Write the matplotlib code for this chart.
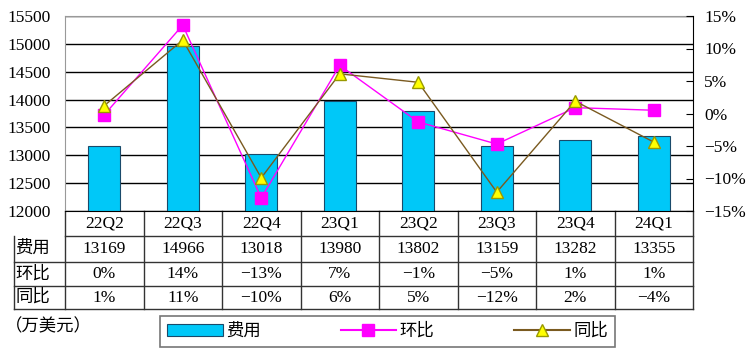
import matplotlib.pyplot as plt
from matplotlib.lines import Line2D
from matplotlib.patches import Patch
import numpy as np

# data
quarters = ['22Q2', '22Q3', '22Q4', '23Q1', '23Q2', '23Q3', '23Q4', '24Q1']
cost = [13169, 14966, 13018, 13980, 13802, 13159, 13282, 13355]
qoq = [-0.2, 13.6, -13.0, 7.4, -1.3, -4.7, 0.9, 0.5]      # 环比 (%)
yoy = [1.2, 11.3, -9.9, 6.1, 4.8, -12.1, 1.9, -4.4]       # 同比 (%)
qoq_lbl = ['0%', '14%', '\u221213%', '7%', '\u22121%', '\u22125%', '1%', '1%']
yoy_lbl = ['1%', '11%', '\u221210%', '6%', '5%', '\u221212%', '2%', '\u22124%']

plt.rcParams['font.family'] = ['Liberation Serif', 'Noto Sans CJK SC']
FS = 12.5

fig = plt.figure(figsize=(7.56, 3.59), dpi=100)
W, H = 756, 359
ax = fig.add_axes([65 / W, 1 - 211 / H, 628 / W, 195 / H])
ax2 = ax.twinx()

x = np.arange(len(quarters))
ax.set_axisbelow(True)
ax.bar(x, cost, width=0.41, color='#00C8F8', edgecolor='#1a4a6a', linewidth=0.8, zorder=2)
ax.set_xlim(-0.5, 7.5)
ax.set_ylim(12000, 15500)
ax.set_yticks(np.arange(12000, 15501, 500))
ax.tick_params(axis='y', length=0, labelsize=FS, pad=10)
ax.set_xticks([])
ax.grid(axis='y', color='black', linewidth=1.0)
for s in ['left', 'top']:
    ax.spines[s].set_color('#999999')
ax.spines['bottom'].set_color('black')
ax.spines['right'].set_visible(False)

ax2.plot(x, qoq, color='#FF00FF', linewidth=1.0, marker='s', markersize=9,
         markerfacecolor='#FF00FF', markeredgecolor='#FF00FF', zorder=4)
ax2.plot(x, yoy, color='#7a5a20', linewidth=1.0, marker='^', markersize=9,
         markerfacecolor='#FFFF00', markeredgecolor='#999900', zorder=5)
ax2.set_ylim(-15, 15)
ax2.set_yticks(np.arange(-15, 16, 5))
ax2.set_yticklabels([f'{v}%'.replace('-', '\u2212') for v in range(-15, 16, 5)])
ax2.tick_params(axis='y', direction='in', length=5, labelsize=FS, pad=8)
ax2.spines['right'].set_color('black')
for s in ['left', 'top', 'bottom']:
    ax2.spines[s].set_visible(False)

# data table below the plot
trans = ax.get_xaxis_transform()
rows_y = [0, -25 / 195, -51 / 195, -75 / 195, -98 / 195]
left_tab = -51 / 628 * 8 - 0.5
lc = dict(color='#333333', linewidth=1.0, clip_on=False, transform=trans)
ax.add_line(Line2D([-0.5, 7.5], [rows_y[1]] * 2, **lc))
for yy in rows_y[2:]:
    ax.add_line(Line2D([left_tab, 7.5], [yy] * 2, **lc))
ax.add_line(Line2D([left_tab, left_tab], [rows_y[1], rows_y[4]], **lc))
for xb in np.arange(-0.5, 8.5, 1.0):
    ax.add_line(Line2D([xb, xb], [0, rows_y[4]], **lc))

for i, q in enumerate(quarters):
    ax.text(i, (rows_y[0] + rows_y[1]) / 2, q, transform=trans, ha='center', va='center', fontsize=FS)
    ax.text(i, (rows_y[1] + rows_y[2]) / 2, str(cost[i]), transform=trans, ha='center', va='center', fontsize=FS)
    ax.text(i, (rows_y[2] + rows_y[3]) / 2, qoq_lbl[i], transform=trans, ha='center', va='center', fontsize=FS)
    ax.text(i, (rows_y[3] + rows_y[4]) / 2, yoy_lbl[i], transform=trans, ha='center', va='center', fontsize=FS)
for name, j in [('费用', 1), ('环比', 2), ('同比', 3)]:
    ax.text(left_tab + 0.02, (rows_y[j] + rows_y[j + 1]) / 2, name, transform=trans,
            ha='left', va='center', fontsize=FS)

fig.text(5 / W, 1 - 327 / H, '（万美元）', fontsize=FS, ha='left', va='center')

handles = [
    Patch(facecolor='#00C8F8', edgecolor='#1a4a6a', linewidth=0.8),
    Line2D([], [], color='#FF00FF', marker='s', markersize=9, markerfacecolor='#FF00FF'),
    Line2D([], [], color='#7a5a20', marker='^', markersize=9, markerfacecolor='#FFFF00',
           markeredgecolor='#999900'),
]
leg = fig.legend(handles, ['费用', '环比', '同比'], ncol=3, loc='center',
                 bbox_to_anchor=(387.5 / W, 1 - 331.5 / H), fontsize=FS, frameon=True,
                 fancybox=False, edgecolor='#555555', handlelength=3.2, handletextpad=0.2,
                 columnspacing=4.6, borderpad=0.4, borderaxespad=0)
leg.get_frame().set_linewidth(1.2)

fig.savefig('out.png', dpi=100)
